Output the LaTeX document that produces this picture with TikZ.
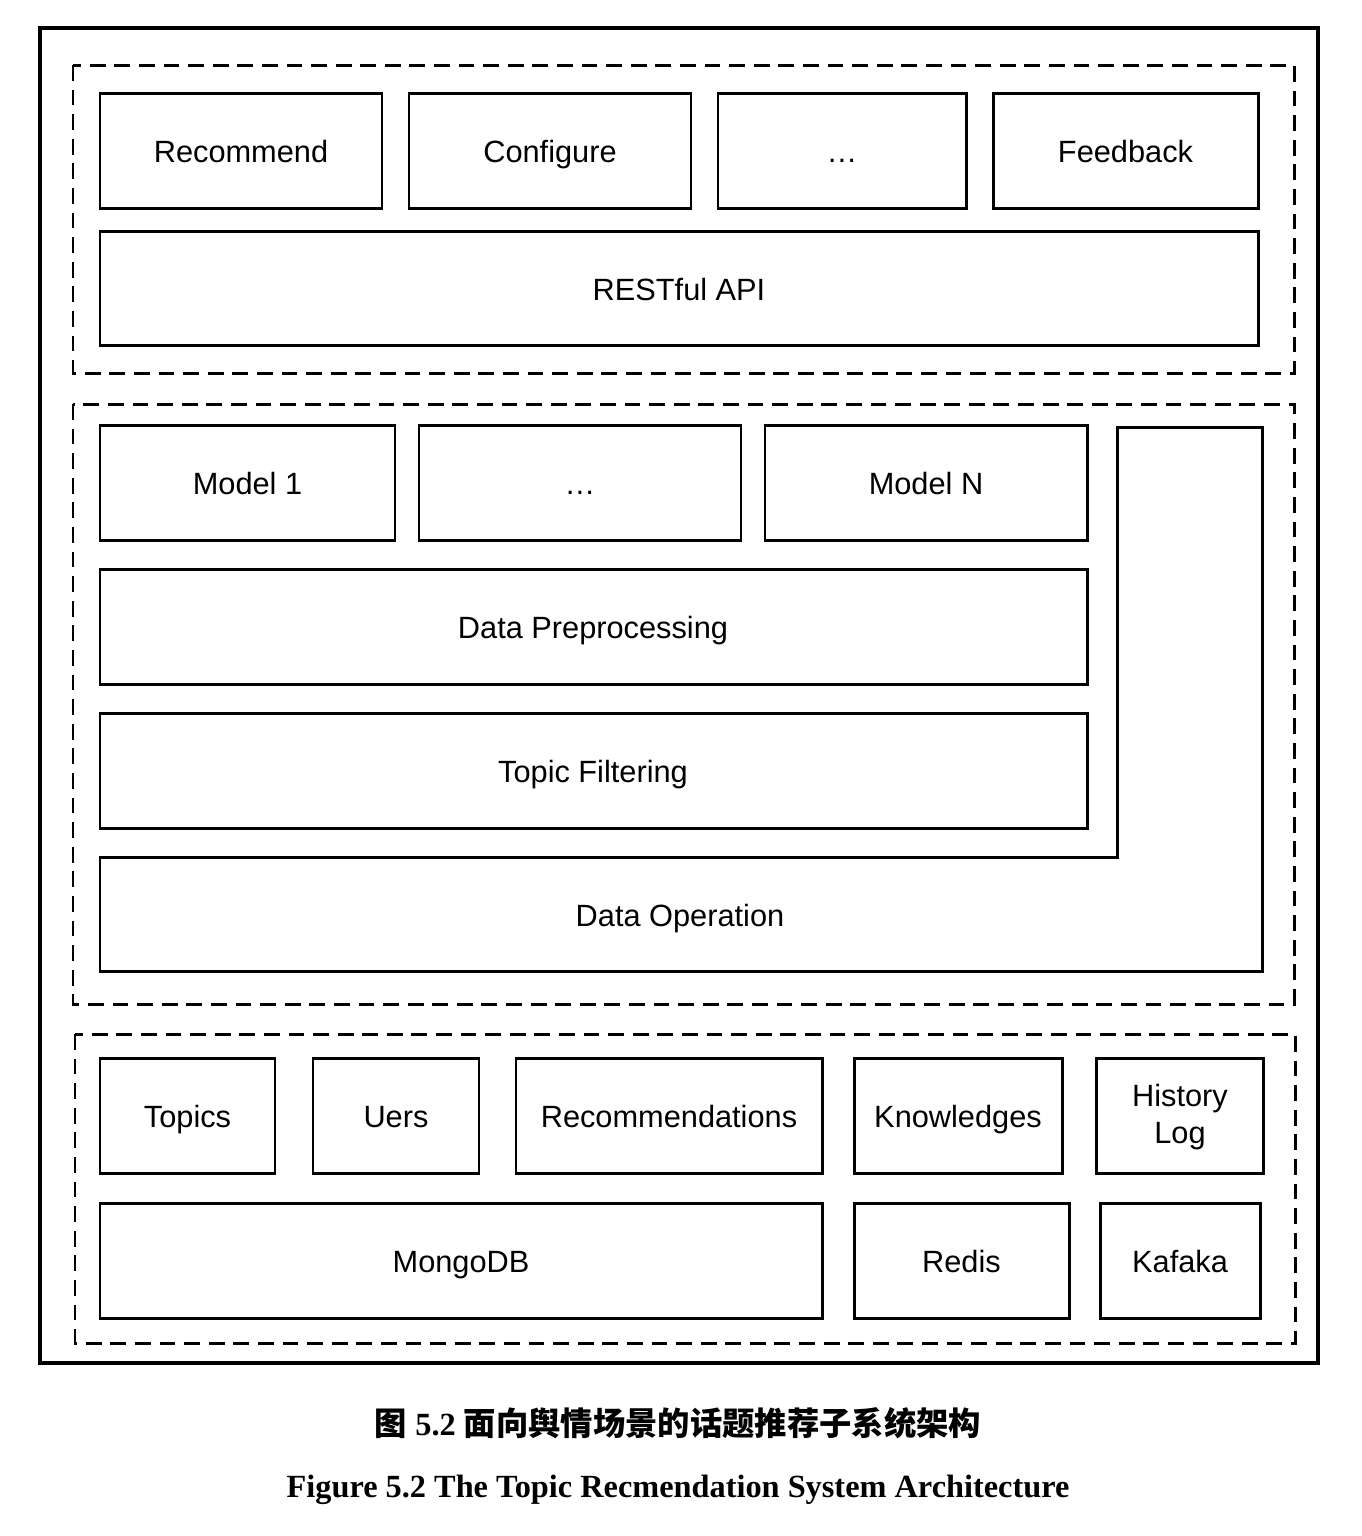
\documentclass[tikz,border=0pt]{standalone}
\usepackage{fontspec}
\setmainfont{Liberation Sans}
\newfontfamily\capfont{Liberation Serif}
\newfontfamily\cjk{Noto Sans CJK SC}
\usepackage{tikz}
\usetikzlibrary{positioning}

\begin{document}
\begin{tikzpicture}[x=0.02cm, y=-0.02cm,
    box/.style={line width=1.7pt},
    layer/.style={line width=1.7pt, dash pattern=on 9pt off 5pt},
    lbl/.style={font=\fontsize{17.5}{21}\selectfont, align=center, text height=13pt, text depth=0pt}]
    \useasboundingbox (0,0) rectangle (1362,1536);
    \draw[line width=1.8pt] (40,28) rectangle (1318,1363);

    % dashed layers
    \draw[layer] (73,65) rectangle (1294,373);
    \draw[layer] (73,404) rectangle (1294,1004);
    \draw[layer] (75,1034) rectangle (1295,1343);

    % top layer
    \foreach \xa/\xb/\nm/\txt in {100/382/rec/Recommend, 409/691/conf/Configure, 718/966/dotsa/…, 993/1258/fb/Feedback} {
        \draw[box] (\xa,93) rectangle (\xb,208);
        \node[lbl] (\nm) at ({(\xa+\xb)/2},151) {\txt};
    }
    \draw[box] (100,231) rectangle (1258,345);
    \node[lbl] (api) at (679,289) {RESTful API};

    % middle layer
    \foreach \xa/\xb/\nm/\txt in {100/395/mone/Model 1, 419/741/dotsb/…, 765/1087/mn/Model N} {
        \draw[box] (\xa,425) rectangle (\xb,540);
        \node[lbl] (\nm) at ({(\xa+\xb)/2},483) {\txt};
    }
    \draw[box] (100,569) rectangle (1087,684);
    \node[lbl] (prep) at (593,627) {Data Preprocessing};
    \draw[box] (100,713) rectangle (1087,828);
    \node[lbl] (filt) at (593,771) {Topic Filtering};
    \draw[box] (100,857) -- (1117,857) -- (1117,427) -- (1262,427) -- (1262,971) -- (100,971) -- cycle;
    \node[lbl] (dataop) at (680,915) {Data Operation};

    % bottom layer
    \foreach \xa/\xb/\nm/\txt in {100/275/topics/Topics, 313/479/uers/Uers, 516/822/recs/Recommendations, 854/1062/know/Knowledges} {
        \draw[box] (\xa,1058) rectangle (\xb,1173);
        \node[lbl] (\nm) at ({(\xa+\xb)/2},1116) {\txt};
    }
    \draw[box] (1096,1058) rectangle (1263,1173);
    \node[font=\fontsize{17.5}{21}\selectfont, align=center] (hist) at (1180,1117) {History\\Log};
    \foreach \xa/\xb/\nm/\txt in {100/822/mongo/MongoDB, 854/1069/redis/Redis, 1100/1260/kafaka/Kafaka} {
        \draw[box] (\xa,1203) rectangle (\xb,1318);
        \node[lbl] (\nm) at ({(\xa+\xb)/2},1261) {\txt};
    }

    % captions
    \node[font=\cjk\bfseries\fontsize{18.4}{22}\selectfont] (capzh) at (678,1423) {图{\capfont\bfseries{} 5.2 }面向舆情场景的话题推荐子系统架构};
    \node[font=\capfont\bfseries\fontsize{18.4}{22}\selectfont] (capen) at (678,1490) {Figure 5.2 The Topic Recmendation System Architecture};
\end{tikzpicture}
\end{document}
